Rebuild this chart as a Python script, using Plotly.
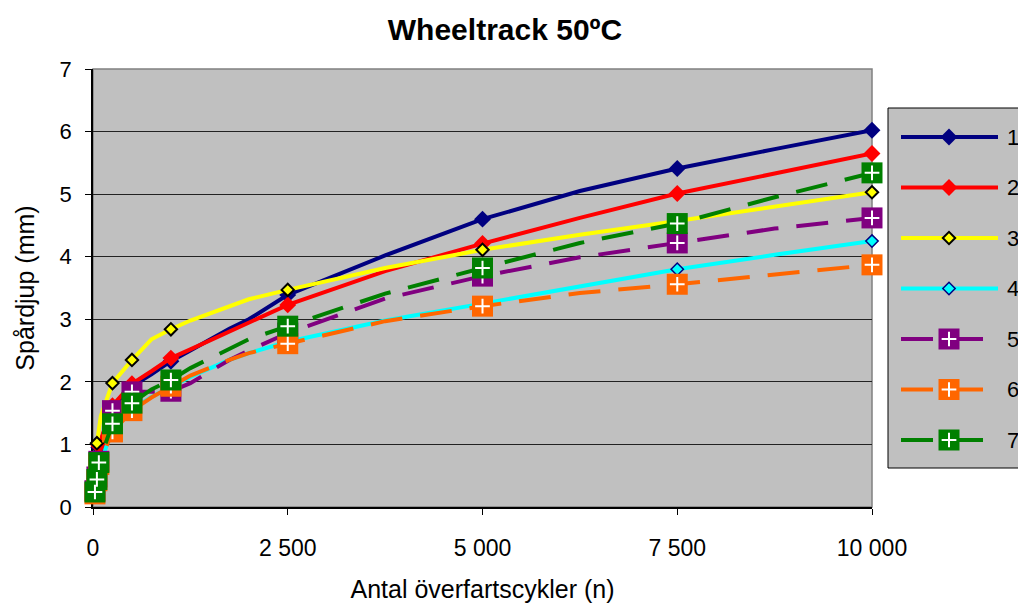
import plotly.graph_objects as go

# ---- data -------------------------------------------------------------
cycles = [25, 50, 75, 100, 250, 500, 750, 1000, 1250, 1750, 2000,
          2500, 3750, 5000, 6250, 7500, 8750, 10000]
marked_cycles = [25, 50, 75, 250, 500, 1000, 2500, 5000, 7500, 10000]

series_names = ["1", "2", "3", "4", "5", "6", "7"]

rut_1 = [0.45, 0.75, 0.95, None, 1.60, 1.93, 2.12, 2.33, 2.50, 2.85, 3.00,
         3.39, 4.02, 4.60, 5.05, 5.41, 5.72, 6.02]
rut_2 = [0.45, 0.78, 0.98, None, 1.62, 1.97, 2.17, 2.38, 2.52, 2.80, 2.94,
         3.23, 3.77, 4.21, 4.62, 5.01, 5.33, 5.65]
rut_3 = [None, 1.02, None, 1.45, 1.98, 2.35, 2.68, 2.84, 2.98, 3.20, 3.32,
         3.47, 3.82, 4.11, 4.35, 4.57, 4.80, 5.03]
rut_4 = [0.20, 0.40, 0.62, None, 1.25, 1.56, 1.76, 1.92, 2.08, 2.35, 2.46,
         2.64, 2.98, 3.25, 3.52, 3.80, 4.03, 4.25]
rut_5 = [0.26, 0.48, 0.73, None, 1.54, 1.84, 1.84, 1.85, 1.98, 2.35, 2.50,
         2.78, 3.33, 3.69, 3.99, 4.22, 4.45, 4.62]
rut_6 = [0.21, 0.42, 0.68, None, 1.20, 1.54, 1.75, 1.93, 2.10, 2.35, 2.46,
         2.61, 2.97, 3.21, 3.42, 3.56, 3.71, 3.87]
rut_7 = [0.24, 0.44, 0.71, None, 1.33, 1.66, 1.88, 2.03, 2.22, 2.52, 2.68,
         2.89, 3.41, 3.82, 4.22, 4.53, 4.95, 5.34]
series_values = [rut_1, rut_2, rut_3, rut_4, rut_5, rut_6, rut_7]

x_tick_values = [0, 2500, 5000, 7500, 10000]
x_tick_labels = ["0", "2 500", "5 000", "7 500", "10 000"]

# ---- styles -----------------------------------------------------------
colors = ["#000080", "#FF0000", "#FFFF00", "#00FFFF", "#800080", "#FF6600", "#008000"]
symbols = ["diamond", "diamond", "diamond", "diamond", "square", "square", "square"]
marker_sizes = [13, 13, 9.5, 9.5, 21, 21, 21]
edge_colors = ["#000080", "#FF0000", "#000000", "#000080", "#800080", "#FF6600", "#008000"]
edge_widths = [0, 0, 2, 1.5, 0, 0, 0]
dashes = ["solid", "solid", "solid", "solid", "32px,18px", "32px,18px", "32px,18px"]
with_plus = [False, False, False, False, True, True, True]

FONT = "Liberation Sans, Arial, sans-serif"
PLOT_BG = "#C0C0C0"

W, H = 1018, 608
M_L, M_R, M_T, M_B = 93, 0, 69, 101
area_w = W - M_L - M_R          # 925
area_h = H - M_T - M_B          # 438
chart_right = 872               # right edge of the chart frame
legend_left, legend_top, legend_bottom = 888, 108, 468

fig = go.Figure()

# ---- chart series -----------------------------------------------------
for i, vals in enumerate(series_values):
    has_mark = [(c in marked_cycles) and (v is not None) for c, v in zip(cycles, vals)]
    sizes = [marker_sizes[i] if m else 0 for m in has_mark]
    widths = [edge_widths[i] if m else 0 for m in has_mark]
    fig.add_trace(go.Scatter(
        x=cycles, y=vals, mode="lines+markers", connectgaps=True,
        name=series_names[i], showlegend=False, cliponaxis=False,
        line=dict(color=colors[i], width=4, dash=dashes[i]),
        marker=dict(symbol=symbols[i], size=sizes, color=colors[i], opacity=1,
                    line=dict(color=edge_colors[i], width=widths)),
        xaxis="x", yaxis="y",
    ))
    if with_plus[i]:
        px = [c for c, m in zip(cycles, has_mark) if m]
        py = [v for v, m in zip(vals, has_mark) if m]
        fig.add_trace(go.Scatter(
            x=px, y=py, mode="markers", showlegend=False, cliponaxis=False,
            hoverinfo="skip",
            marker=dict(symbol="cross-thin", size=10.5, color="white", opacity=1,
                        line=dict(color="white", width=2)),
            xaxis="x", yaxis="y",
        ))

# ---- legend panel (drawn on its own small axes) -----------------------
row_first, row_step = 29, 50.5
for i in range(len(series_names)):
    row = row_first + row_step * i
    x_end = 99 if with_plus[i] else 110
    fig.add_trace(go.Scatter(
        x=[13, x_end], y=[row, row], mode="lines", showlegend=False,
        hoverinfo="skip",
        line=dict(color=colors[i], width=4, dash=dashes[i]),
        xaxis="x2", yaxis="y2",
    ))
    fig.add_trace(go.Scatter(
        x=[61], y=[row], mode="markers", showlegend=False, hoverinfo="skip",
        cliponaxis=False,
        marker=dict(symbol=symbols[i], size=marker_sizes[i], color=colors[i], opacity=1,
                    line=dict(color=edge_colors[i], width=edge_widths[i])),
        xaxis="x2", yaxis="y2",
    ))
    if with_plus[i]:
        fig.add_trace(go.Scatter(
            x=[61], y=[row], mode="markers", showlegend=False, hoverinfo="skip",
            cliponaxis=False,
            marker=dict(symbol="cross-thin", size=10.5, color="white", opacity=1,
                        line=dict(color="white", width=2)),
            xaxis="x2", yaxis="y2",
        ))
    fig.add_annotation(
        x=117, y=row, xref="x2", yref="y2", text=series_names[i],
        showarrow=False, xanchor="left", yanchor="middle",
        font=dict(family=FONT, size=22, color="black"),
    )

chart_dom = (chart_right - M_L) / area_w
leg_x0 = (legend_left - M_L) / area_w
leg_y0 = (H - M_B - legend_bottom) / area_h
leg_y1 = (H - M_B - legend_top) / area_h

shapes = [
    # grey frame of the chart area
    dict(type="rect", xref="paper", yref="paper", x0=0, x1=chart_dom, y0=0, y1=1,
         line=dict(color="#808080", width=1.5), fillcolor="rgba(0,0,0,0)", layer="below"),
    # legend box
    dict(type="rect", xref="paper", yref="paper", x0=leg_x0, x1=1.3, y0=leg_y0, y1=leg_y1,
         line=dict(color="black", width=1), fillcolor=PLOT_BG, layer="below"),
]

fig.update_layout(
    width=W, height=H,
    margin=dict(l=M_L, r=M_R, t=M_T, b=M_B, autoexpand=False),
    paper_bgcolor="white", plot_bgcolor=PLOT_BG,
    font=dict(family=FONT, size=22, color="black"),
    title=dict(text="<b>Wheeltrack 50ºC</b>", x=505 / W, xref="container",
               xanchor="center", y=1 - 29 / H, yref="container", yanchor="middle",
               font=dict(family=FONT, size=30, color="black")),
    shapes=shapes,
    xaxis=dict(
        domain=[0, chart_dom], range=[0, 10000], anchor="y",
        tickmode="array", tickvals=x_tick_values, ticktext=x_tick_labels,
        ticks="outside", ticklen=6, tickwidth=1, tickcolor="black",
        showline=True, linecolor="black", linewidth=1.5,
        showgrid=False, zeroline=False, layer="below traces",
        ticklabelstandoff=14,
        tickfont=dict(family=FONT, size=23, color="black"),
        title=dict(text="Antal överfartscykler (n)", standoff=20,
                   font=dict(family=FONT, size=25, color="black")),
    ),
    yaxis=dict(
        domain=[0, 1], range=[0, 7], dtick=1, anchor="x",
        ticks="outside", ticklen=6, tickwidth=1, tickcolor="black",
        showline=True, linecolor="black", linewidth=1.5,
        showgrid=True, gridcolor="#222222", gridwidth=1,
        zeroline=False, layer="below traces",
        ticklabelstandoff=9,
        tickfont=dict(family=FONT, size=22, color="black"),
        title=dict(text="Spårdjup (mm)", standoff=18,
                   font=dict(family=FONT, size=25, color="black")),
    ),
    xaxis2=dict(domain=[leg_x0, 1], range=[0, area_w * (1 - leg_x0)], anchor="y2",
                visible=False, fixedrange=True),
    yaxis2=dict(domain=[leg_y0, leg_y1], range=[legend_bottom - legend_top, 0],
                anchor="x2", visible=False, fixedrange=True),
)

fig.write_html("out.html")
